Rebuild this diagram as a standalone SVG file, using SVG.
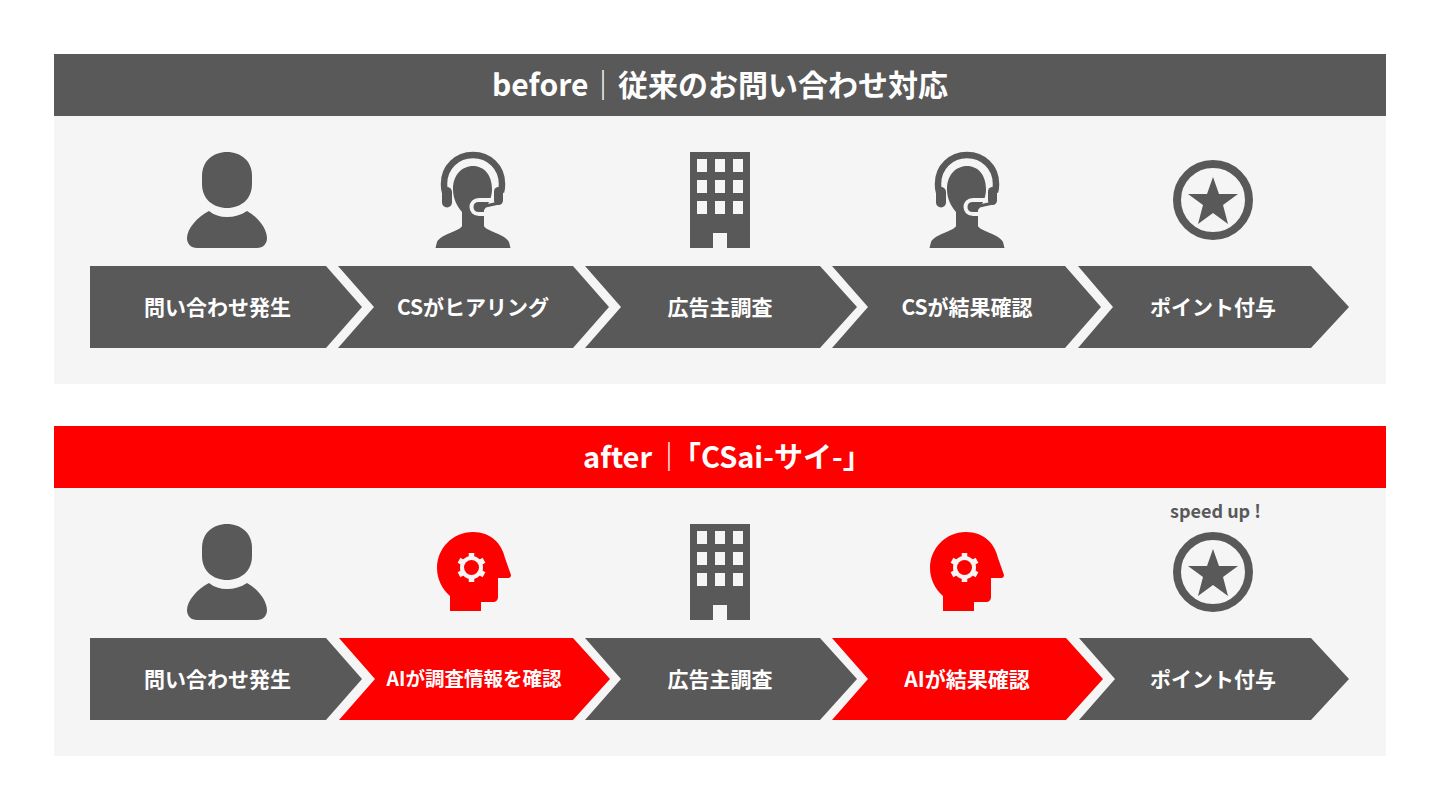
<svg xmlns="http://www.w3.org/2000/svg" width="1440" height="810" viewBox="0 0 1440 810">
<style>
.panel{fill:#f5f5f5}
.g{fill:#595959}
.r{fill:#ff0000}
text{font-family:"Noto Sans CJK JP","Noto Sans",sans-serif;font-weight:700;text-anchor:middle}
.t{fill:#fff;font-size:21px}
.ai{font-size:19.500px}
.h{fill:#fff;font-size:30px;text-anchor:start}
.h2{font-size:29px}
.bar{font-weight:400}
.tight{letter-spacing:-11.500px}
.s{fill:#595959;font-size:18px}
.gear{stroke:#f5f5f5;stroke-width:5.500;fill:none}
</style>
<defs>
<g id="person">
<path d="M227 152C241 152 252 161 252 176V184C252 199 241 208 227 208C213 208 202 199 202 184V176C202 161 213 152 227 152Z"/>
<path d="M209 211C214 215 220 217 227 217C234 217 241 215 247 211C258 217 267 229 267 238C267 244 263 248 257 248H197C191 248 187 244 187 238C187 229 197 217 209 211Z"/>
</g>
<g id="agent">
<path d="M473 166C484 166 492 175 492 189C492 197 489 204 484 210V226C486 231 505 234 509 242L510.500 248H435.500L437 242C441 234 460 231 462 226V212C457 206 453 199 453 189C453 175 462 166 473 166Z"/>
<path fill="none" stroke="#595959" stroke-width="6.500" d="M445 192C444 189 444 186 444 184C444 167 457 155 473 155C489 155 502 167 502 184C502 186 502 189 501 192"/>
<rect x="442" y="187" width="10" height="20.500" rx="5"/>
<rect x="494" y="187" width="9" height="18" rx="4.500"/>
<path fill="none" stroke="#f5f5f5" stroke-width="4" d="M491 200H479C469 200 469 214 479 214H484"/>
<path fill="none" stroke="#595959" stroke-width="3" d="M499 203L481 207"/>
<ellipse cx="480" cy="207" rx="5" ry="4"/>
</g>
<g id="building">
<path fill-rule="evenodd" d="M690 152H750V248H727V233H713V248H690ZM697 159V172H707V159ZM715 159V172H725V159ZM733 159V172H743V159ZM697 180V193H707V180ZM715 180V193H725V180ZM733 180V193H743V180ZM697 201V214H707V201ZM715 201V214H725V201ZM733 201V214H743V201Z"/>
</g>
<g id="star">
<circle cx="1213" cy="200" r="36" fill="none" stroke="#595959" stroke-width="8"/>
<path d="M1213 177L1219 194H1238L1223 205L1228 224L1213 213L1198 224L1203 205L1188 194H1207Z"/>
</g>
<g id="aihead">
<path d="M450 611V596C442 589 437 579 437 568C437 549 452 532 473 532C491 532 502 544 505 558L511 575C511 577 510 578 508 578H498V597C498 600 496 602 493 602H481V611Z"/>
<g class="gear">
<path d="M471.500 553V582M459 560.250L484 574.750M459 574.750L484 560.250"/>
</g>
<circle cx="471.500" cy="567.500" r="11.500" fill="#f5f5f5"/>
<circle cx="471.500" cy="567.500" r="7.500"/>
</g>
</defs>

<g id="before-panel">
<rect class="panel" x="54" y="54" width="1332" height="330"/>
<rect class="g" x="54" y="54" width="1332" height="62"/>
<text class="h" y="96"><tspan x="492">before</tspan><tspan x="588" class="bar">｜</tspan><tspan x="618">従来のお問い合わせ対応</tspan></text>
</g>
<g id="after-panel">
<rect class="panel" x="54" y="426" width="1332" height="330"/>
<rect class="r" x="54" y="426" width="1332" height="62"/>
<text class="h h2" y="468"><tspan x="583">after</tspan><tspan x="654.500" class="bar tight">｜</tspan><tspan x="672">「CSai-サイ-」</tspan></text>
</g>

<g id="b1"><use href="#person" class="g"/><path class="g" d="M90 266H326L362 307L326 348H90Z"/><text class="t" x="217.500" y="315">問い合わせ発生</text></g>
<g id="b2"><use href="#agent" class="g"/><path class="g" d="M338 266H573L609 307L573 348H338L374 307Z"/><text class="t" x="473" y="315">CSがヒアリング</text></g>
<g id="b3"><use href="#building" class="g"/><path class="g" d="M585 266H820L857 307L820 348H585L621 307Z"/><text class="t" x="720" y="315">広告主調査</text></g>
<g id="b4"><use href="#agent" class="g" x="494"/><path class="g" d="M832 266H1065L1101 307L1065 348H832L868 307Z"/><text class="t" x="967" y="315">CSが結果確認</text></g>
<g id="b5"><use href="#star" class="g"/><path class="g" d="M1078 266H1311L1349 307L1311 348H1078L1113 307Z"/><text class="t" x="1213" y="315">ポイント付与</text></g>

<g id="a1"><use href="#person" class="g" y="372"/><path class="g" d="M90 638H326L362 679L326 720H90Z"/><text class="t" x="217.500" y="687">問い合わせ発生</text></g>
<g id="a2"><use href="#aihead" class="r"/><path class="r" d="M339 638H573L610 679L573 720H339L375 679Z"/><text class="t ai" x="474" y="686">AIが調査情報を確認</text></g>
<g id="a3"><use href="#building" class="g" y="372"/><path class="g" d="M585 638H820L857 679L820 720H585L621 679Z"/><text class="t" x="720" y="687">広告主調査</text></g>
<g id="a4"><use href="#aihead" class="r" x="493"/><path class="r" d="M832 638H1066L1103 679L1066 720H832L868 679Z"/><text class="t" x="967" y="687">AIが結果確認</text></g>
<g id="a5"><use href="#star" class="g" y="372"/><path class="g" d="M1079 638H1311L1349 679L1311 720H1079L1115 679Z"/><text class="t" x="1213" y="687">ポイント付与</text><text class="s" x="1215.500" y="518">speed up !</text></g>
<g id="connectors"></g>
</svg>
